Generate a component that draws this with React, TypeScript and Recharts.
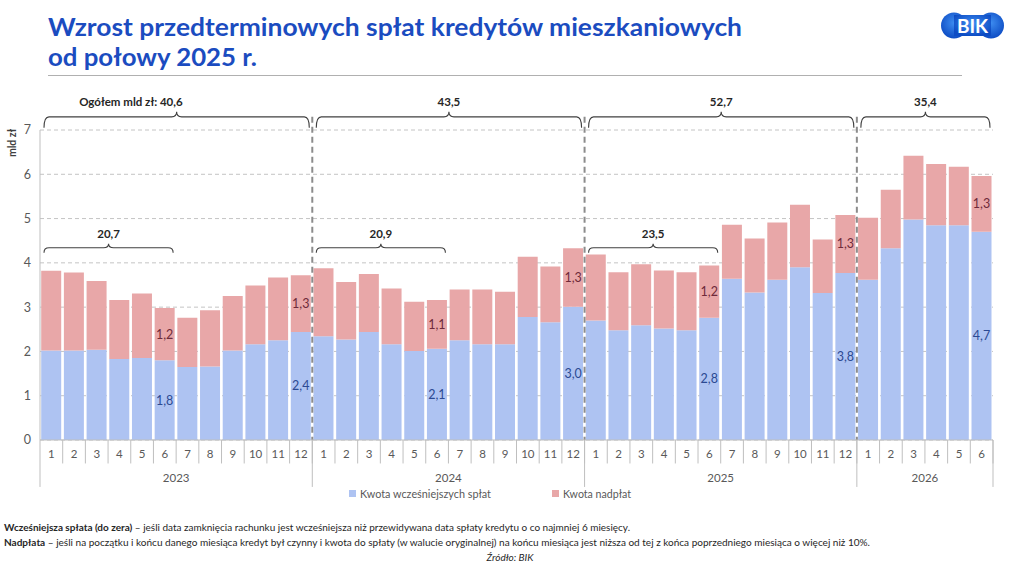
import React from "react";
import {
  BarChart,
  Bar,
  XAxis,
  YAxis,
  CartesianGrid,
  ReferenceLine,
  ReferenceArea,
  LabelList,
} from "recharts";

const FONT = "Lato, 'Open Sans', 'DejaVu Sans Condensed', sans-serif";
const BLUE = "#aec3f2";
const PINK = "#e8a7a8";
const GREY_TEXT = "#595959";

const yearLabels = ["2023", "2024", "2025", "2026"];
const monthsInYear = [12, 12, 12, 6];
const yearTotals = ["Ogółem mld zł: 40,6", "43,5", "52,7", "35,4"];
const halfYearTotals = ["20,7", "20,9", "23,5"];

// mld zł, month by month
const earlyRepayment = [
  2.02, 2.02, 2.04, 1.83, 1.85, 1.8, 1.65, 1.66, 2.02, 2.16, 2.25, 2.44,
  2.34, 2.27, 2.44, 2.16, 2.01, 2.06, 2.25, 2.16, 2.16, 2.78, 2.66, 3.01,
  2.7, 2.48, 2.59, 2.52, 2.48, 2.76, 3.64, 3.33, 3.62, 3.9, 3.32, 3.77,
  3.62, 4.33, 4.98, 4.85, 4.85, 4.7,
];
const overpayment = [
  1.8, 1.76, 1.55, 1.33, 1.46, 1.18, 1.11, 1.27, 1.23, 1.33, 1.42, 1.28,
  1.54, 1.3, 1.31, 1.26, 1.11, 1.1, 1.15, 1.24, 1.19, 1.36, 1.26, 1.32,
  1.49, 1.31, 1.38, 1.31, 1.31, 1.18, 1.22, 1.22, 1.29, 1.41, 1.21, 1.31,
  1.4, 1.32, 1.44, 1.38, 1.32, 1.26,
];
const labelledMonths = ["2023-6", "2023-12", "2024-6", "2024-12", "2025-6", "2025-12", "2026-6"];
const yTicks = [0, 1, 2, 3, 4, 5, 6, 7];

const keys = yearLabels.flatMap((y, i) =>
  Array.from({ length: monthsInYear[i] }, (_, m) => `${y}-${m + 1}`)
);
const fmt = (v: number) => v.toFixed(1).replace(".", ",");
const data = keys.map((key, i) => ({
  key,
  early: earlyRepayment[i],
  over: overpayment[i],
  earlyLabel: labelledMonths.includes(key) ? fmt(earlyRepayment[i]) : undefined,
  overLabel: labelledMonths.includes(key) ? fmt(overpayment[i]) : undefined,
}));
const firstOf = (i: number) => `${yearLabels[i]}-1`;
const lastOf = (i: number) => `${yearLabels[i]}-${monthsInYear[i]}`;
const halfOf = (i: number) => `${yearLabels[i]}-6`;

function Brace({ x, y, width, height, text, endAnchor, lift }: any) {
  if (x == null || y == null) return null;
  const l = x + 4;
  const r = x + width - 3;
  const c = (l + r) / 2;
  const mid = y + lift;
  const bot = y + height;
  const d = `M${l},${bot} Q${l},${mid} ${l + 5},${mid} L${c - 5},${mid} Q${c},${mid} ${c},${y} Q${c},${mid} ${c + 5},${mid} L${r - 5},${mid} Q${r},${mid} ${r},${bot}`;
  return (
    <g>
      <path d={d} fill="none" stroke="#404040" strokeWidth={1.1} />
      <text
        x={endAnchor ? c + 6 : c}
        y={y - 6}
        textAnchor={endAnchor ? "end" : "middle"}
        fontFamily={FONT}
        fontSize={11.5}
        fontWeight="bold"
        fill="#262626"
      >
        {text}
      </text>
    </g>
  );
}

function YearText({ x, y, width, height, text }: any) {
  if (x == null || y == null) return null;
  return (
    <text
      x={x + width / 2}
      y={y + height / 2 + 4}
      textAnchor="middle"
      fontFamily={FONT}
      fontSize={11.5}
      fill={GREY_TEXT}
    >
      {text}
    </text>
  );
}

function Overlay() {
  return (
    <svg
      width={1024}
      height={565}
      style={{ position: "absolute", left: 0, top: 0, pointerEvents: "none" }}
    >
      <text x={48} y={36} fontFamily={FONT} fontWeight="bold" fontSize={24.5} fill="#1b4cc0" textLength={694} lengthAdjust="spacingAndGlyphs">
        Wzrost przedterminowych spłat kredytów mieszkaniowych
      </text>
      <text x={48} y={66} fontFamily={FONT} fontWeight="bold" fontSize={24.5} fill="#1b4cc0" textLength={209} lengthAdjust="spacingAndGlyphs">
        od połowy 2025 r.
      </text>
      <line x1={48} y1={75.5} x2={962} y2={75.5} stroke="#b0b0b0" strokeWidth={1.2} />

      <defs>
        <radialGradient id="bikg" cx="50%" cy="40%" r="60%">
          <stop offset="0%" stopColor="#3d8cf0" />
          <stop offset="100%" stopColor="#0d4cc4" />
        </radialGradient>
      </defs>
      <g fill="url(#bikg)">
        <circle cx={954} cy={25.5} r={13} />
        <circle cx={991} cy={25.5} r={13} />
        <rect x={954} y={15} width={37} height={21} />
      </g>
      <text x={972.5} y={32.5} textAnchor="middle" fontFamily={FONT} fontWeight="bold" fontSize={19} fill="#ffffff">
        BIK
      </text>

      <text
        x={16}
        y={143}
        transform="rotate(-90 16 143)"
        textAnchor="middle"
        fontFamily={FONT}
        fontWeight="bold"
        fontSize={10.5}
        fill="#404040"
      >
        mld zł
      </text>

      <rect x={349} y={490} width={7} height={7} fill={BLUE} />
      <text x={360} y={497.5} fontFamily={FONT} fontSize={11} fill={GREY_TEXT} textLength={131} lengthAdjust="spacingAndGlyphs">
        Kwota wcześniejszych spłat
      </text>
      <rect x={552} y={490} width={7} height={7} fill={PINK} />
      <text x={563} y={497.5} fontFamily={FONT} fontSize={11} fill={GREY_TEXT} textLength={68} lengthAdjust="spacingAndGlyphs">
        Kwota nadpłat
      </text>

      <text x={4} y={531} fontFamily={FONT} fontSize={10} fill="#262626" textLength={626} lengthAdjust="spacingAndGlyphs">
        <tspan fontWeight="bold">Wcześniejsza spłata (do zera)</tspan>
        <tspan> – jeśli data zamknięcia rachunku jest wcześniejsza niż przewidywana data spłaty kredytu o co najmniej 6 miesięcy.</tspan>
      </text>
      <text x={4} y={546} fontFamily={FONT} fontSize={10} fill="#262626" textLength={866} lengthAdjust="spacingAndGlyphs">
        <tspan fontWeight="bold">Nadpłata</tspan>
        <tspan> – jeśli na początku i końcu danego miesiąca kredyt był czynny i kwota do spłaty (w walucie oryginalnej) na końcu miesiąca jest niższa od tej z końca poprzedniego miesiąca o więcej niż 10%.</tspan>
      </text>
      <text x={510} y={561} textAnchor="middle" fontFamily={FONT} fontStyle="italic" fontSize={10} fill="#262626">
        Źródło: BIK
      </text>
    </svg>
  );
}

export default function App() {
  return (
    <div
      style={{
        position: "fixed",
        left: 0,
        top: 0,
        width: 1024,
        height: 565,
        background: "#ffffff",
        fontFamily: FONT,
        overflow: "hidden",
      }}
    >
      <BarChart
        width={1024}
        height={565}
        data={data}
        margin={{ top: 130, right: 31, bottom: 95, left: 10 }}
        barCategoryGap={1.2}
      >
        <CartesianGrid horizontal vertical={false} stroke="#c4c4c4" strokeDasharray="4 3" />
        <XAxis
          dataKey="key"
          interval={0}
          height={30}
          tickSize={0}
          tickMargin={10}
          tickLine={false}
          axisLine={{ stroke: "#bfbfbf" }}
          tickFormatter={(v: string) => v.split("-")[1]}
          tick={{ fill: GREY_TEXT, fontSize: 11.5, fontFamily: FONT }}
        />
        <YAxis
          width={30}
          domain={[0, 7]}
          ticks={yTicks}
          tickSize={0}
          tickMargin={9}
          tickLine={false}
          axisLine={{ stroke: "#bfbfbf" }}
          tick={{ fill: GREY_TEXT, fontSize: 12.5, fontFamily: FONT }}
        />
        <Bar dataKey="early" stackId="a" fill={BLUE} isAnimationActive={false}>
          <LabelList dataKey="earlyLabel" position="center" fill="#2c4a93" fontSize={12.5} fontFamily={FONT} />
        </Bar>
        <Bar dataKey="over" stackId="a" fill={PINK} isAnimationActive={false}>
          <LabelList dataKey="overLabel" position="center" fill="#6e2a3a" fontSize={12.5} fontFamily={FONT} />
        </Bar>

        {keys.map((k) => (
          <ReferenceLine
            key={`sep-${k}`}
            segment={[
              { x: k, y: 0 },
              { x: k, y: -0.53 },
            ]}
            position="end"
            ifOverflow="visible"
            stroke="#bfbfbf"
          />
        ))}
        {yearLabels.map((_, i) => (
          <ReferenceLine
            key={`ysep-${i}`}
            segment={[
              { x: lastOf(i), y: 0 },
              { x: lastOf(i), y: -1.06 },
            ]}
            position="end"
            ifOverflow="visible"
            stroke="#bfbfbf"
          />
        ))}
        <ReferenceLine
          segment={[
            { x: firstOf(0), y: 0 },
            { x: firstOf(0), y: -1.06 },
          ]}
          position="start"
          ifOverflow="visible"
          stroke="#bfbfbf"
        />
        {yearLabels.slice(1).map((_, i) => (
          <ReferenceLine
            key={`dash-${i}`}
            segment={[
              { x: firstOf(i + 1), y: 7.3 },
              { x: firstOf(i + 1), y: 0 },
            ]}
            position="start"
            ifOverflow="visible"
            stroke="#8c8c8c"
            strokeWidth={2}
            strokeDasharray="6 4"
          />
        ))}

        {yearLabels.map((y, i) => (
          <ReferenceArea
            key={`yl-${y}`}
            x1={firstOf(i)}
            x2={lastOf(i)}
            y1={-0.7}
            y2={-1.02}
            ifOverflow="visible"
            shape={(p: any) => <YearText {...p} text={y} />}
          />
        ))}
        {yearTotals.map((t, i) => (
          <ReferenceArea
            key={`tot-${i}`}
            x1={firstOf(i)}
            x2={lastOf(i)}
            y1={7.05}
            y2={7.41}
            ifOverflow="visible"
            shape={(p: any) => <Brace {...p} text={t} lift={5} endAnchor={i === 0} />}
          />
        ))}
        {halfYearTotals.map((t, i) => (
          <ReferenceArea
            key={`half-${i}`}
            x1={firstOf(i)}
            x2={halfOf(i)}
            y1={4.23}
            y2={4.43}
            ifOverflow="visible"
            shape={(p: any) => <Brace {...p} text={t} lift={4} endAnchor={false} />}
          />
        ))}
      </BarChart>
      <Overlay />
    </div>
  );
}
